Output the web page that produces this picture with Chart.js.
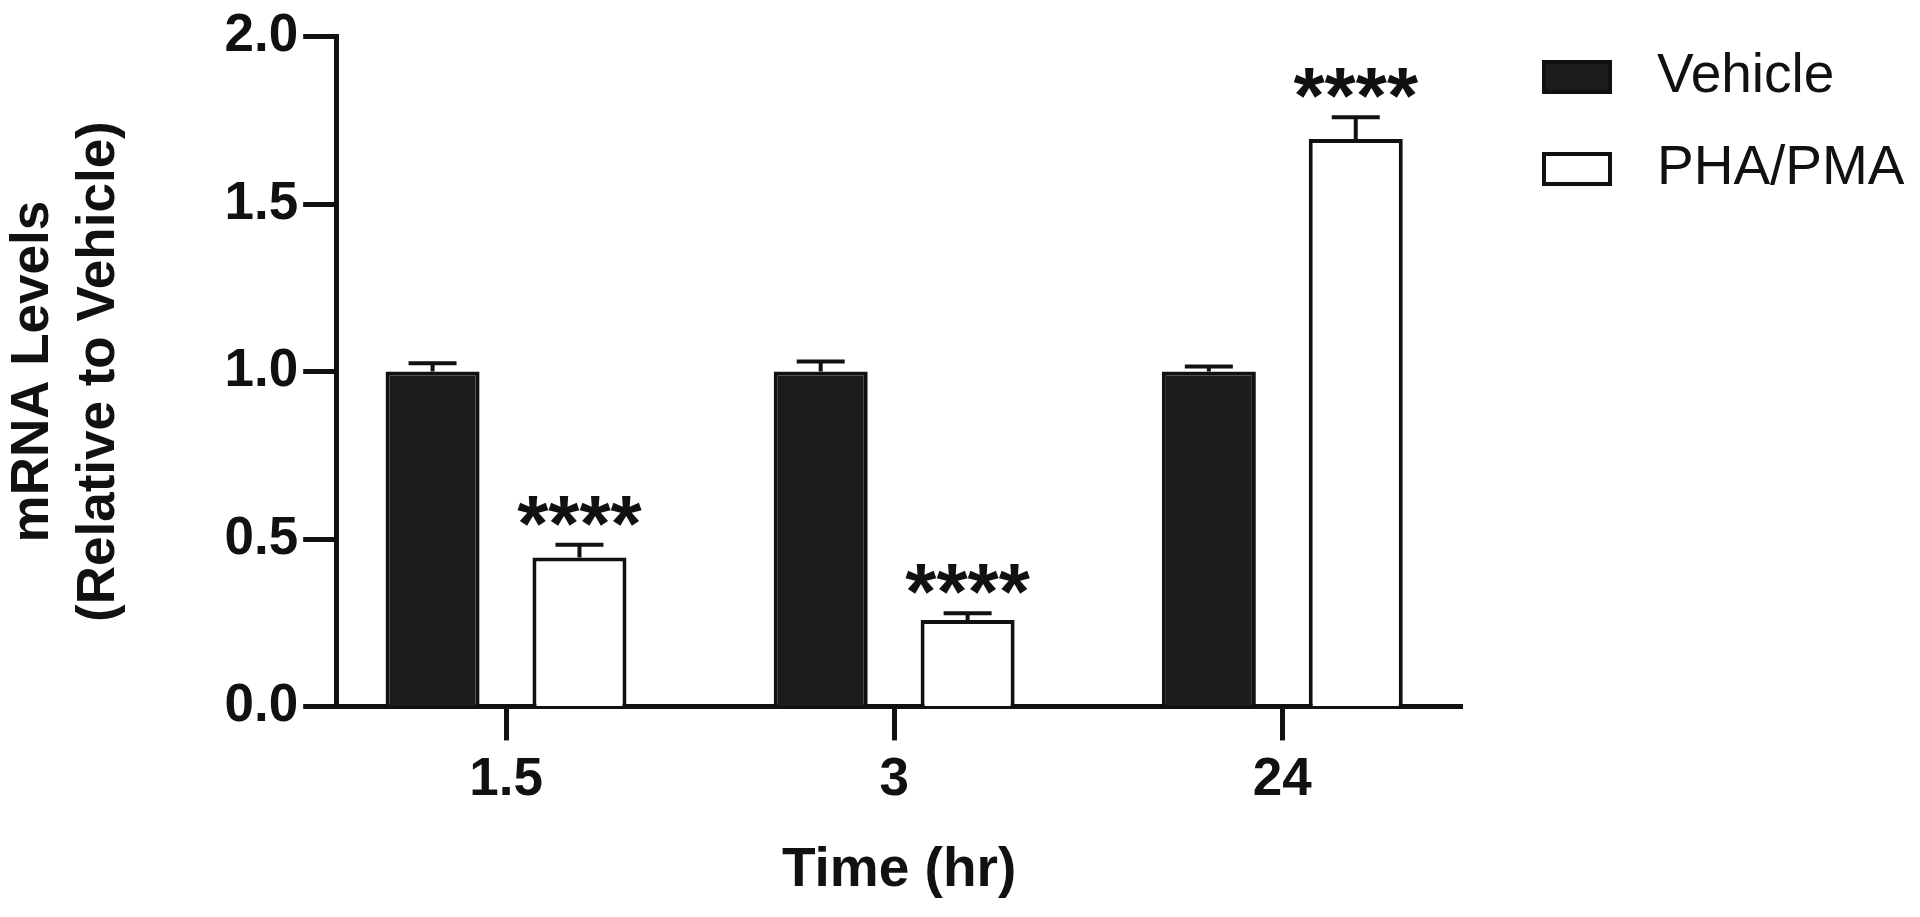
<!DOCTYPE html>
<html>
<head>
<meta charset="utf-8">
<script src="https://cdn.jsdelivr.net/npm/chart.js@4/dist/chart.umd.min.js"></script>
<style>
  html, body { margin: 0; padding: 0; background: #fff; }
  #wrap { width: 1920px; height: 917px; }
</style>
</head>
<body>
<div id="wrap"><canvas id="myChart" width="1920" height="917"></canvas></div>
<script>
// data
var times = ['1.5', '3', '24'];
var vehicle = [1.0, 1.0, 1.0];
var vehicleErr = [0.025, 0.03, 0.015];
var pha = [0.445, 0.258, 1.695];
var phaErr = [0.038, 0.02, 0.065];
var stars = ['', '', ''];
var phaStars = ['****', '****', '****'];
var yTicks = [0, 0.5, 1.0, 1.5, 2.0];

var FONT = "'Liberation Sans', Arial, sans-serif";

// error bars + significance stars
const errorBars = {
    id: 'errorBars',
    afterDatasetsDraw(chart) {
        const ctx = chart.ctx;
        const y = chart.scales.y;
        chart.data.datasets.forEach(function (ds, di) {
            const meta = chart.getDatasetMeta(di);
            meta.data.forEach(function (bar, i) {
                const top = y.getPixelForValue(ds.data[i].y + ds.errors[i]);
                ctx.save();
                ctx.strokeStyle = '#111';
                ctx.lineWidth = 4;
                ctx.beginPath();
                ctx.moveTo(bar.x, bar.y);
                ctx.lineTo(bar.x, top);
                ctx.moveTo(bar.x - 24, top);
                ctx.lineTo(bar.x + 24, top);
                ctx.stroke();
                if (ds.stars[i]) {
                    ctx.fillStyle = '#111';
                    ctx.font = 'bold 80px ' + FONT;
                    ctx.textAlign = 'center';
                    ctx.textBaseline = 'alphabetic';
                    ctx.fillText(ds.stars[i], bar.x, top + 6);
                }
                ctx.restore();
            });
        });
    }
};

// legend on the right
const sideLegend = {
    id: 'sideLegend',
    afterDraw(chart) {
        const ctx = chart.ctx;
        const rows = [[60, 'Vehicle', '#1c1c1c'], [152, 'PHA/PMA', '#ffffff']];
        ctx.save();
        rows.forEach(function (r) {
            ctx.fillStyle = r[2];
            ctx.fillRect(1542, r[0], 70, 34);
            ctx.strokeStyle = '#111';
            ctx.lineWidth = 4;
            ctx.strokeRect(1544, r[0] + 2, 66, 30);
            ctx.fillStyle = '#111';
            ctx.font = '55px ' + FONT;
            ctx.textAlign = 'left';
            ctx.textBaseline = 'middle';
            ctx.fillText(r[1], 1657, r[0] + 17);
        });
        ctx.restore();
    }
};

let myChart = document.getElementById('myChart').getContext('2d');

const barChart = new Chart(myChart, {
    type: 'bar',
    data: {
        datasets: [{
            label: 'Vehicle',
            data: vehicle.map(function (v, i) { return { x: i, y: v }; }),
            errors: vehicleErr,
            stars: stars,
            backgroundColor: '#1c1c1c',
            borderColor: '#111',
            borderWidth: 4,
            categoryPercentage: 0.757,
            barPercentage: 0.64
        }, {
            label: 'PHA/PMA',
            data: pha.map(function (v, i) { return { x: i, y: v }; }),
            errors: phaErr,
            stars: phaStars,
            backgroundColor: '#ffffff',
            borderColor: '#111',
            borderWidth: 4,
            categoryPercentage: 0.757,
            barPercentage: 0.64
        }]
    },
    options: {
        responsive: false,
        animation: false,
        layout: { padding: { left: 0, top: 20, right: 458, bottom: 0 } },
        scales: {
            x: {
                type: 'linear',
                offset: false,
                min: -0.4376,
                max: 2.463,
                afterBuildTicks: function (scale) {
                    scale.ticks = times.map(function (t, i) { return { value: i }; });
                },
                ticks: {
                    callback: function (value) { return times[value]; },
                    font: { family: FONT, size: 53, weight: 'bold' },
                    color: '#111',
                    padding: 8,
                    maxRotation: 0
                },
                grid: {
                    offset: false,
                    drawOnChartArea: false,
                    drawTicks: true,
                    tickLength: 34,
                    tickWidth: 5,
                    tickColor: '#111'
                },
                border: { display: true, color: '#111', width: 5 },
                title: {
                    display: true,
                    text: 'Time (hr)',
                    font: { family: FONT, size: 55, weight: 'bold' },
                    color: '#111',
                    padding: { top: 18, bottom: 13 }
                }
            },
            y: {
                min: 0,
                max: 2.0,
                afterBuildTicks: function (scale) {
                    scale.ticks = yTicks.map(function (v) { return { value: v }; });
                },
                ticks: {
                    callback: function (value) { return value.toFixed(1); },
                    font: { family: FONT, size: 53, weight: 'bold' },
                    color: '#111',
                    padding: 5
                },
                grid: {
                    drawOnChartArea: false,
                    drawTicks: true,
                    tickLength: 33,
                    tickWidth: 5,
                    tickColor: '#111'
                },
                border: { display: true, color: '#111', width: 5 },
                title: {
                    display: true,
                    text: ['mRNA Levels', '(Relative to Vehicle)'],
                    font: { family: FONT, size: 53, weight: 'bold', lineHeight: 1.25 },
                    color: '#111',
                    padding: { top: 0, bottom: 87 }
                }
            }
        },
        plugins: {
            legend: { display: false },
            tooltip: { enabled: false }
        }
    },
    plugins: [errorBars, sideLegend]
});
</script>
</body>
</html>
